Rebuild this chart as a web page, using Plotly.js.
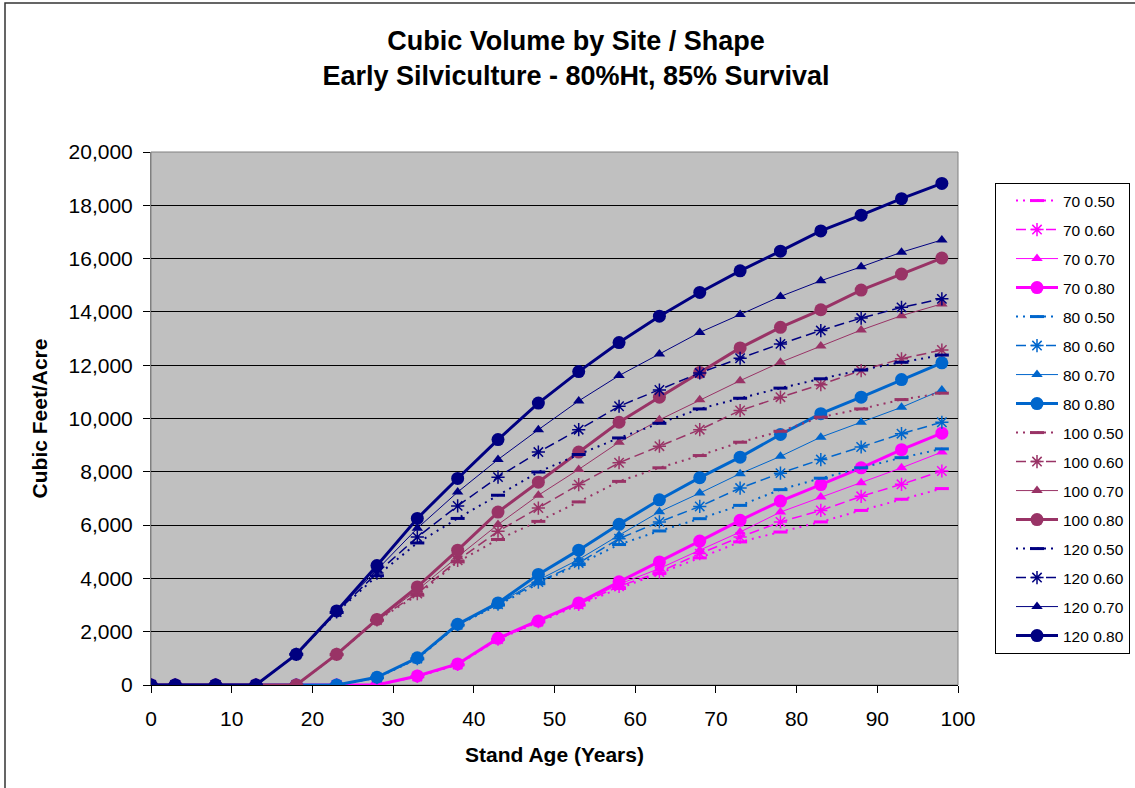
<!DOCTYPE html>
<html>
<head>
<meta charset="utf-8">
<script src="https://cdn.plot.ly/plotly-3.0.1.min.js"></script>
<style>
  html, body { margin: 0; padding: 0; background: #fff; }
  #chart { width: 1135px; height: 788px; }
</style>
</head>
<body>
<div id="chart"></div>
<script>
// Stand age (years)
const ages = [0, 3, 8, 13, 18, 23, 28, 33, 38, 43, 48, 53, 58, 63, 68, 73, 78, 83, 88, 93, 98];

// Site 70
const s70_050 = [0,0,0,0,0,0,0,310,760,1710,2370,3000,3620,4180,4770,5370,5740,6120,6550,6970,7370];
const s70_060 = [0,0,0,0,0,0,0,320,770,1720,2380,3020,3700,4240,4930,5550,6120,6550,7080,7530,8030];
const s70_070 = [0,0,0,0,0,0,0,330,780,1730,2390,3050,3780,4370,5060,5740,6490,7050,7590,8150,8740];
const s70_080 = [0,0,0,0,0,0,0,340,790,1750,2400,3080,3870,4620,5400,6180,6900,7520,8150,8830,9450];
// Site 80
const s80_050 = [0,0,0,0,0,0,270,980,2250,3000,3800,4520,5270,5780,6240,6740,7330,7760,8150,8530,8860];
const s80_060 = [0,0,0,0,0,0,280,990,2260,3030,3860,4580,5490,6120,6700,7390,7950,8460,8930,9430,9860];
const s80_070 = [0,0,0,0,0,0,280,1000,2270,3050,3940,4710,5620,6500,7200,7930,8580,9300,9860,10420,11070];
const s80_080 = [0,0,0,0,0,0,290,1020,2280,3080,4150,5060,6030,6950,7780,8550,9400,10180,10800,11460,12090];
// Site 100
const s100_050 = [0,0,0,0,0,1140,2430,3370,4620,5460,6140,6870,7640,8150,8610,9110,9520,10050,10360,10710,10950];
const s100_060 = [0,0,0,0,0,1150,2440,3430,4680,5770,6640,7520,8340,8960,9580,10300,10800,11270,11800,12240,12570];
const s100_070 = [0,0,0,0,0,1150,2450,3560,4810,6020,7120,8090,9110,9950,10700,11420,12110,12720,13320,13860,14300];
const s100_080 = [0,0,0,0,0,1150,2460,3680,5060,6490,7610,8740,9860,10800,11730,12650,13420,14080,14820,15420,16020];
// Site 120
const s120_050 = [0,0,0,0,1150,2720,4100,5330,6250,7120,7990,8650,9270,9820,10360,10760,11140,11490,11820,12110,12380];
const s120_060 = [0,0,0,0,1150,2740,4200,5550,6720,7800,8740,9580,10460,11070,11710,12260,12800,13300,13770,14170,14490];
const s120_070 = [0,0,0,0,1150,2760,4320,5880,7240,8460,9580,10660,11610,12420,13230,13900,14580,15170,15690,16240,16700];
const s120_080 = [0,0,0,0,1150,2780,4480,6250,7750,9210,10580,11760,12850,13840,14730,15540,16280,17040,17630,18250,18820];

const sites = ['70', '80', '100', '120'];
const shapes = ['0.50', '0.60', '0.70', '0.80'];
const seriesValues = {
  '70':  [s70_050, s70_060, s70_070, s70_080],
  '80':  [s80_050, s80_060, s80_070, s80_080],
  '100': [s100_050, s100_060, s100_070, s100_080],
  '120': [s120_050, s120_060, s120_070, s120_080]
};

const siteColors = { '70': '#FF00FF', '80': '#0066CC', '100': '#993366', '120': '#000080' };

function styleFor(shapeIdx, color) {
  if (shapeIdx === 0) {
    return {
      line: { color: color, width: 2, dash: '2px,5px' },
      marker: { symbol: 'line-ew', size: 10, color: color, line: { color: color, width: 3 } }
    };
  } else if (shapeIdx === 1) {
    return {
      line: { color: color, width: 1.5, dash: '10px,5px' },
      marker: { symbol: 'asterisk-open', size: 11, color: color, line: { color: color, width: 1.5 } }
    };
  } else if (shapeIdx === 2) {
    return {
      line: { color: color, width: 1 },
      marker: { symbol: 'triangle-up', size: 10, color: color, line: { width: 0 } }
    };
  }
  return {
    line: { color: color, width: 3 },
    marker: { symbol: 'circle', size: 13, color: color, line: { width: 0 } }
  };
}

const traces = [];
sites.forEach(function (site) {
  shapes.forEach(function (shp, i) {
    const st = styleFor(i, siteColors[site]);
    traces.push({
      type: 'scatter',
      mode: 'lines+markers',
      name: site + ' ' + shp,
      legendgroup: site + ' ' + shp,
      x: ages,
      y: seriesValues[site][i],
      line: st.line,
      marker: st.marker,
      hovertemplate: site + ' ' + shp + '<br>%{x}, %{y:,}<extra></extra>'
    });
  });
});

const FONT = 'Arial, "Liberation Sans", sans-serif';
const L = 151, R = 958, T = 152, B = 685, W = 1135, H = 788;
const pw = R - L, ph = B - T;

const layout = {
  width: W,
  height: H,
  margin: { l: L, r: W - R, t: T, b: H - B, autoexpand: false },
  paper_bgcolor: '#FFFFFF',
  plot_bgcolor: '#C0C0C0',
  font: { family: FONT, color: '#000000' },
  title: {
    text: 'Cubic Volume by Site / Shape<br>Early Silviculture - 80%Ht, 85% Survival',
    font: { family: FONT, size: 27, weight: 'bold', color: '#000' },
    x: 576 / W,
    xanchor: 'center',
    xref: 'container',
    y: 1 - 50 / H,
    yref: 'container',
    yanchor: 'top'
  },
  xaxis: {
    range: [0, 100],
    dtick: 10,
    tick0: 0,
    showgrid: false,
    zeroline: false,
    showline: true,
    linecolor: '#000',
    linewidth: 1,
    ticks: 'outside',
    ticklen: 7,
    tickcolor: '#000',
    tickfont: { family: FONT, size: 21, color: '#000' },
    ticklabelstandoff: 8,
    title: {
      text: 'Stand Age (Years)',
      font: { family: FONT, size: 21, weight: 'bold', color: '#000' },
      standoff: 18
    }
  },
  yaxis: {
    range: [0, 20000],
    dtick: 2000,
    tick0: 0,
    tickformat: ',d',
    showgrid: true,
    gridcolor: '#000',
    gridwidth: 1,
    zeroline: false,
    showline: true,
    linecolor: '#808080',
    linewidth: 1,
    ticks: 'outside',
    ticklen: 7,
    tickcolor: '#000',
    tickfont: { family: FONT, size: 21, color: '#000' },
    ticklabelstandoff: 6,
    title: {
      text: 'Cubic Feet/Acre',
      font: { family: FONT, size: 21, weight: 'bold', color: '#000' },
      standoff: 15
    }
  },
  legend: {
    x: (995 - L) / pw,
    xanchor: 'left',
    y: (B - 183) / ph,
    yanchor: 'top',
    bgcolor: '#FFFFFF',
    bordercolor: '#000',
    borderwidth: 1,
    font: { family: FONT, size: 15.5, color: '#000' },
    tracegroupgap: 5.85,
    itemwidth: 42,
    indentation: 15,
    itemsizing: 'trace'
  },
  shapes: [
    { type: 'rect', xref: 'paper', yref: 'paper', x0: 0, x1: 1, y0: 0, y1: 1,
      line: { color: '#808080', width: 1 }, layer: 'below' },
    { type: 'rect', xref: 'paper', yref: 'paper',
      x0: (5 - L) / pw, x1: (1145 - L) / pw, y0: (B - 800) / ph, y1: (B - 3) / ph,
      line: { color: '#333', width: 1.5 }, layer: 'above' }
  ],
  showlegend: true,
  hovermode: 'closest'
};

Plotly.newPlot('chart', traces, layout, { displayModeBar: false });
</script>
</body>
</html>
